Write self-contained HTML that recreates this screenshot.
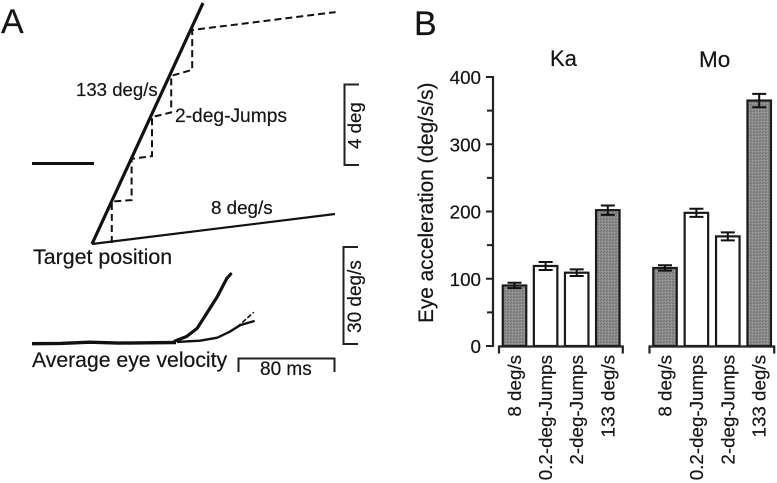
<!DOCTYPE html>
<html>
<head>
<meta charset="utf-8">
<style>
html,body{margin:0;padding:0;background:#fff;}
svg{display:block;filter:blur(0.35px);}
text{font-family:"Liberation Sans",sans-serif;fill:#151515;stroke:#151515;stroke-width:0.2px;}
</style>
</head>
<body>
<svg id="fig" width="777" height="483" viewBox="0 0 777 483" xmlns="http://www.w3.org/2000/svg">
<defs>
<pattern id="grain" width="3" height="3" patternUnits="userSpaceOnUse">
<rect width="3" height="3" fill="#8b8b8b"/>
<rect x="0" y="0" width="1" height="1" fill="#6f6f6f"/>
<rect x="2" y="1" width="1" height="1" fill="#a0a0a0"/>
<rect x="1" y="2" width="1" height="1" fill="#757575"/>
</pattern>
</defs>
<g id="panelA">
<text x="1" y="33" font-size="34">A</text>
<text x="76" y="96" font-size="18.6">133 deg/s</text>
<text x="175" y="122" font-size="19.2">2-deg-Jumps</text>
<text x="211" y="214" font-size="18.8">8 deg/s</text>
<text x="33" y="264" font-size="21.4">Target position</text>
<text x="32" y="367" font-size="21.2">Average eye velocity</text>
<text x="260" y="375" font-size="19">80 ms</text>
<text transform="translate(361,149) rotate(-90)" font-size="18.7">4 deg</text>
<text transform="translate(361,333) rotate(-90)" font-size="19">30 deg/s</text>
<line x1="32" y1="163.5" x2="94" y2="163.5" stroke="#111" stroke-width="3"/>
<path d="M359 84.5H344.5V165H359" fill="none" stroke="#222" stroke-width="2"/>
<path d="M358 247H343.5V344H358" fill="none" stroke="#222" stroke-width="2"/>
<path d="M238.500 372V358.500H334.500V372" fill="none" stroke="#222" stroke-width="2"/>
</g>
<g id="panelB">
<text x="414" y="35" font-size="34">B</text>
<text transform="translate(433,323) rotate(-90)" font-size="20.8">Eye acceleration (deg/s/s)</text>
<text x="550" y="66" font-size="22">Ka</text>
<text x="699" y="67" font-size="22.5">Mo</text>
</g>
</svg>
<script>
const NS = 'http://www.w3.org/2000/svg';

// Panel A: stimulus and eye traces (time in ms, position in deg, velocity in deg/s)
const fastTime = [0, 92.5];
const fastPos = [0, 11.9];
const slowTime = [0, 202.5];
const slowPos = [0, 1.48];
const jumpTime = [16.5, 16.5, 33, 33, 50, 50, 66, 66, 83.5, 83.5, 203];
const jumpPos = [0.05, 2.1, 2.17, 4.2, 4.34, 6.27, 6.5, 8.3, 8.6, 10.57, 11.45];
const eyeBaseTime = [0, 30, 60, 90, 120, 150];
const eyeBaseVel = [-0.4, -0.3, 0.1, -0.2, -0.1, 0];
const eyeFastTime = [149, 161, 172, 182, 193, 203, 207];
const eyeFastVel = [0.5, 2, 4.7, 9.7, 15.3, 21.4, 22.8];
const eyeSlowTime = [151, 175, 193, 206, 217, 232];
const eyeSlowVel = [0.2, 0.6, 1.6, 3.6, 5.8, 7.2];
const eyeJumpTime = [213.5, 231];
const eyeJumpVel = [5.1, 10.1];

// Panel B: bar chart
const categories = ['8 deg/s', '0.2-deg-Jumps', '2-deg-Jumps', '133 deg/s'];
const kaValues = [90, 119, 109, 202];
const kaErrors = [4, 6, 5, 7];
const moValues = [116, 198, 163, 365];
const moErrors = [4, 6, 6, 10];
const yTickLabels = [0, 100, 200, 300, 400];
const yMinorTicks = [50, 150, 250, 350];

const tx = t => 92 + t * 1.2;
const py = p => 244 - p * 20.25;
const vx = t => 32 + t * 0.96;
const vy = v => 342.5 - v * 3;
const yScale = v => 346 - v * 0.6725;
const kaX = i => 514.5 + i * 31.1;
const moX = i => 665 + i * 31.4;

const panelA = document.getElementById('panelA');
const panelB = document.getElementById('panelB');

function el(parent, tag, attrs, txt) {
  const n = document.createElementNS(NS, tag);
  for (const k in attrs) n.setAttribute(k, attrs[k]);
  if (txt !== undefined) n.textContent = txt;
  parent.appendChild(n);
  return n;
}
function pathOf(xs, ys, fx, fy) {
  return xs.map((x, i) => (i ? 'L' : 'M') + fx(x).toFixed(1) + ' ' + fy(ys[i]).toFixed(1)).join('');
}

const traceFast = el(panelA, 'path', {d: pathOf(fastTime, fastPos, tx, py), fill: 'none', stroke: '#111', 'stroke-width': 3.2});


const traceSlow = el(panelA, 'path', {d: pathOf(slowTime, slowPos, tx, py), fill: 'none', stroke: '#111', 'stroke-width': 2.2});


const traceJump = el(panelA, 'path', {d: pathOf(jumpTime, jumpPos, tx, py), fill: 'none', stroke: '#111', 'stroke-width': 2, 'stroke-dasharray': '7 4'});



const eyeBase = el(panelA, 'path', {d: pathOf(eyeBaseTime, eyeBaseVel, vx, vy), fill: 'none', stroke: '#111', 'stroke-width': 3.4});


const eyeFast = el(panelA, 'path', {d: pathOf(eyeFastTime, eyeFastVel, vx, vy), fill: 'none', stroke: '#111', 'stroke-width': 3.2, 'stroke-linecap': 'round', 'stroke-linejoin': 'round'});


const eyeSlow = el(panelA, 'path', {d: pathOf(eyeSlowTime, eyeSlowVel, vx, vy), fill: 'none', stroke: '#111', 'stroke-width': 2.4, 'stroke-linejoin': 'round'});


const eyeJump = el(panelA, 'path', {d: pathOf(eyeJumpTime, eyeJumpVel, vx, vy), fill: 'none', stroke: '#111', 'stroke-width': 1.6, 'stroke-dasharray': '5 2'});



// y axis
const yAxis = el(panelB, 'line', {x1: 493, x2: 493, y1: yScale(400) - 1, y2: yScale(0) + 1, stroke: '#222', 'stroke-width': 2.2});


yTickLabels.forEach(v => {
  const tick = el(panelB, 'line', {x1: 486, x2: 493, y1: yScale(v), y2: yScale(v), stroke: '#222', 'stroke-width': 2});
  
  
  const lab = el(panelB, 'text', {x: 481, y: yScale(v) + 7, 'font-size': 18.8, 'text-anchor': 'end'}, String(v));
  
  
});
yMinorTicks.forEach(v => {
  const tick = el(panelB, 'line', {x1: 487, x2: 493, y1: yScale(v), y2: yScale(v), stroke: '#222', 'stroke-width': 2});
  
  
});

// groups of bars
function drawGroup(values, errors, xf) {
  const barW = 23.5;
  values.forEach((v, i) => {
    const cx = xf(i);
    const shaded = i === 0 || i === 3;
    const top = yScale(v);
    const bar = el(panelB, 'rect', {x: cx - barW / 2, y: top, width: barW, height: yScale(0) - top,
      fill: shaded ? 'url(#grain)' : '#fff', stroke: '#1a1a1a', 'stroke-width': 2.2});
    
    
    const e = errors[i];
    const errHi = yScale(v + e), errLo = yScale(v - e);
    const err = el(panelB, 'path', {d: 'M' + (cx - 7) + ' ' + errHi + 'H' + (cx + 7) + 'M' + cx + ' ' + errHi + 'V' + errLo + 'M' + (cx - 7) + ' ' + errLo + 'H' + (cx + 7),
      fill: 'none', stroke: '#111', 'stroke-width': 2});
    
    
    const lx = cx + 6.5;
    const lab = el(panelB, 'text', {transform: 'translate(' + lx + ',355) rotate(-90)', 'font-size': 18.8, 'text-anchor': 'end'}, categories[i]);
    
    
  });
  const first = xf(0) - 15.5, last = xf(values.length - 1) + 15;
  const axis = el(panelB, 'path', {d: 'M' + first + ' 353.5V346.500H' + last + 'V353.5', fill: 'none', stroke: '#222', 'stroke-width': 2.2});
  
  
}
drawGroup(kaValues, kaErrors, kaX);
drawGroup(moValues, moErrors, moX);
</script>
</body>
</html>
